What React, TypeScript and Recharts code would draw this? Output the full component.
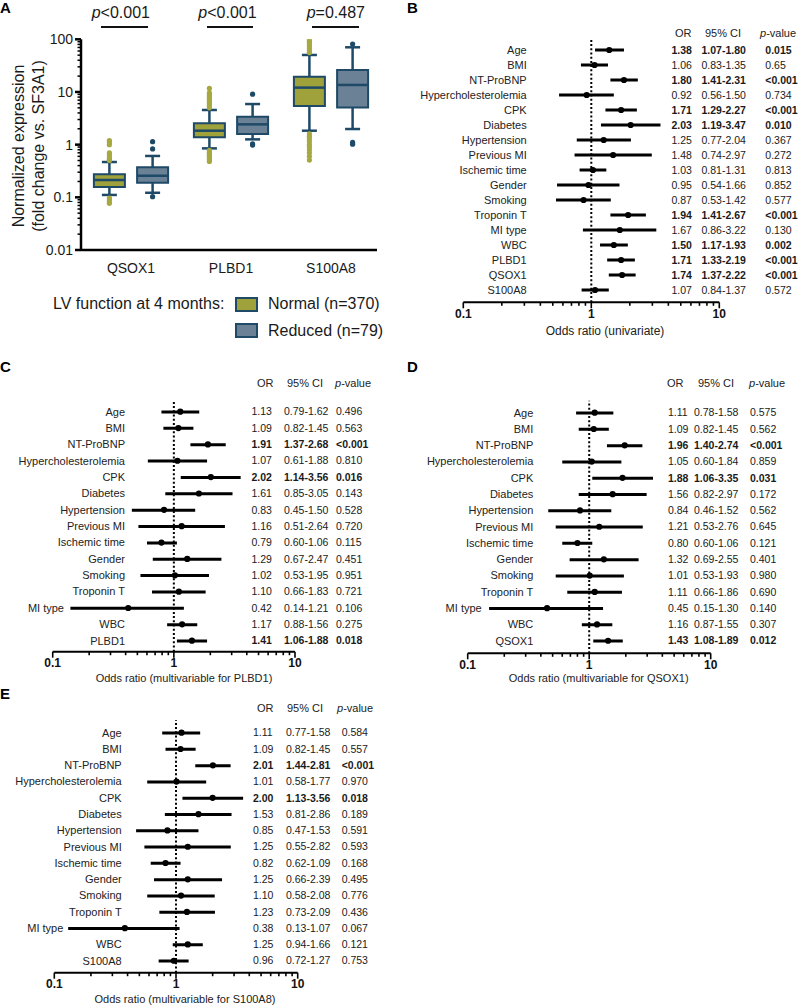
import React from "react";
import {
  Bar,
  ComposedChart,
  Line,
  ReferenceArea,
  ReferenceLine,
  Scatter,
  XAxis,
  YAxis,
} from "recharts";

const FONT = '"Liberation Sans", Arial, Helvetica, sans-serif';
const STROKE = "#1e4a68";
const NORMAL_FILL = "#9fa13a";
const NORMAL_DOT = "#a7a940";
const REDUCED_FILL = "#6b8195";

// ---- panel A: expression box plots ----
const genes = ["QSOX1", "PLBD1", "S100A8"];
const groupNames = ["Normal (n=370)", "Reduced (n=79)"];
const pLabels = ["<0.001", "<0.001", "=0.487"];

const normalLow = [0.111, 0.85, 1.84];
const normalQ1 = [0.157, 1.38, 5.4];
const normalMedian = [0.213, 1.84, 12.1];
const normalQ3 = [0.273, 2.54, 19.5];
const normalHigh = [0.468, 4.55, 50.4];
const normalOutliers = [
  [1.2, 1.1, 1.0, 0.7, 0.64, 0.58, 0.53, 0.5, 0.097, 0.09, 0.083, 0.077],
  [11.7, 9.6, 9.0, 8.4, 7.8, 7.2, 6.6, 6.0, 5.5, 5.0, 0.78, 0.72, 0.68, 0.64, 0.6, 0.56, 0.52, 0.48],
  [100, 92, 85, 78, 72, 66, 60, 56, 1.6, 1.45, 1.3, 1.15, 1.0, 0.9, 0.8, 0.7, 0.6, 0.51],
];

const reducedLow = [0.122, 1.26, 1.98];
const reducedQ1 = [0.19, 1.59, 5.1];
const reducedMedian = [0.257, 2.43, 13.6];
const reducedQ3 = [0.372, 3.4, 26.1];
const reducedHigh = [0.61, 5.9, 70.5];
const reducedOutliers = [
  [1.14, 0.83, 0.103],
  [9.1, 1.03, 0.98],
  [81.5, 1.1, 1.02],
];

const exprTicks = [-2, -1, 0, 1]
  .flatMap((e) => [1, 2, 3, 4, 5, 6, 7, 8, 9].map((m) => m * 10 ** e))
  .concat(100);

// ---- panels B-E: forest plots ----
const namesB = ["Age", "BMI", "NT-ProBNP", "Hypercholesterolemia", "CPK", "Diabetes", "Hypertension", "Previous MI", "Ischemic time", "Gender", "Smoking", "Troponin T", "MI type", "WBC", "PLBD1", "QSOX1", "S100A8"];
const orB = [1.38, 1.06, 1.8, 0.92, 1.71, 2.03, 1.25, 1.48, 1.03, 0.95, 0.87, 1.94, 1.67, 1.5, 1.71, 1.74, 1.07];
const loB = [1.07, 0.83, 1.41, 0.56, 1.29, 1.19, 0.77, 0.74, 0.81, 0.54, 0.53, 1.41, 0.86, 1.17, 1.33, 1.37, 0.84];
const hiB = [1.8, 1.35, 2.31, 1.5, 2.27, 3.47, 2.04, 2.97, 1.31, 1.66, 1.42, 2.67, 3.22, 1.93, 2.19, 2.22, 1.37];
const pB = ["0.015", "0.65", "<0.001", "0.734", "<0.001", "0.010", "0.367", "0.272", "0.813", "0.852", "0.577", "<0.001", "0.130", "0.002", "<0.001", "<0.001", "0.572"];

const namesMulti = ["Age", "BMI", "NT-ProBNP", "Hypercholesterolemia", "CPK", "Diabetes", "Hypertension", "Previous MI", "Ischemic time", "Gender", "Smoking", "Troponin T", "MI type", "WBC"];

const orC = [1.13, 1.09, 1.91, 1.07, 2.02, 1.61, 0.83, 1.16, 0.79, 1.29, 1.02, 1.1, 0.42, 1.17, 1.41];
const loC = [0.79, 0.82, 1.37, 0.61, 1.14, 0.85, 0.45, 0.51, 0.6, 0.67, 0.53, 0.66, 0.14, 0.88, 1.06];
const hiC = [1.62, 1.45, 2.68, 1.88, 3.56, 3.05, 1.5, 2.64, 1.06, 2.47, 1.95, 1.83, 1.21, 1.56, 1.88];
const pC = ["0.496", "0.563", "<0.001", "0.810", "0.016", "0.143", "0.528", "0.720", "0.115", "0.451", "0.951", "0.721", "0.106", "0.275", "0.018"];

const orD = [1.11, 1.09, 1.96, 1.05, 1.88, 1.56, 0.84, 1.21, 0.8, 1.32, 1.01, 1.11, 0.45, 1.16, 1.43];
const loD = [0.78, 0.82, 1.4, 0.6, 1.06, 0.82, 0.46, 0.53, 0.6, 0.69, 0.53, 0.66, 0.15, 0.87, 1.08];
const hiD = [1.58, 1.45, 2.74, 1.84, 3.35, 2.97, 1.52, 2.76, 1.06, 2.55, 1.93, 1.86, 1.3, 1.55, 1.89];
const pD = ["0.575", "0.562", "<0.001", "0.859", "0.031", "0.172", "0.562", "0.645", "0.121", "0.401", "0.980", "0.690", "0.140", "0.307", "0.012"];

const orE = [1.11, 1.09, 2.01, 1.01, 2.0, 1.53, 0.85, 1.25, 0.82, 1.25, 1.1, 1.23, 0.38, 1.25, 0.96];
const loE = [0.77, 0.82, 1.44, 0.58, 1.13, 0.81, 0.47, 0.55, 0.62, 0.66, 0.58, 0.73, 0.13, 0.94, 0.72];
const hiE = [1.58, 1.45, 2.81, 1.77, 3.56, 2.86, 1.53, 2.82, 1.09, 2.39, 2.08, 2.09, 1.07, 1.66, 1.27];
const pE = ["0.584", "0.557", "<0.001", "0.970", "0.018", "0.189", "0.591", "0.593", "0.168", "0.495", "0.776", "0.436", "0.067", "0.121", "0.753"];

const oddsTicks = [-1, 0]
  .flatMap((e) => [1, 2, 3, 4, 5, 6, 7, 8, 9].map((m) => m * 10 ** e))
  .concat(10);

type Row = { name: string; or: number; ci: [number, number]; p: string };

const buildRows = (names: string[], or: number[], lo: number[], hi: number[], p: string[]): Row[] =>
  names.map((name, i) => ({ name, or: or[i], ci: [lo[i], hi[i]], p: p[i] }));

const rowsB = buildRows(namesB, orB, loB, hiB, pB);
const rowsC = buildRows([...namesMulti, "PLBD1"], orC, loC, hiC, pC);
const rowsD = buildRows([...namesMulti, "QSOX1"], orD, loD, hiD, pD);
const rowsE = buildRows([...namesMulti, "S100A8"], orE, loE, hiE, pE);

const isDecade = (v: number) => Math.abs(Math.log10(v) - Math.round(Math.log10(v))) < 1e-6;
const isSig = (p: string) => p.startsWith("<") || parseFloat(p) < 0.05;
const fmt = (v: number) => String(Number(v.toPrecision(3)));

const BOX_HALF = 0.155;
const CAP_HALF = 0.075;

const boxGroups = [
  { name: groupNames[0], fill: NORMAL_FILL, dot: NORMAL_DOT, offset: -0.216, low: normalLow, q1: normalQ1, med: normalMedian, q3: normalQ3, high: normalHigh, out: normalOutliers },
  { name: groupNames[1], fill: REDUCED_FILL, dot: STROKE, offset: 0.216, low: reducedLow, q1: reducedQ1, med: reducedMedian, q3: reducedQ3, high: reducedHigh, out: reducedOutliers },
];

function ExprTick(props: any) {
  const { x, y, payload } = props;
  const major = isDecade(payload.value);
  return (
    <g>
      <line x1={x} x2={x - (major ? 6 : 3.5)} y1={y} y2={y} stroke="#000" strokeWidth={major ? 2.5 : 1.5} />
      {major && (
        <text x={x - 8} y={y} dy="0.35em" textAnchor="end" fontSize={14} fill="#1a1a1a">
          {fmt(payload.value)}
        </text>
      )}
    </g>
  );
}

function ExpressionPanel() {
  const pCenters = [120.8, 227.5, 335.8];
  const sigBars = [[101, 148], [207, 253], [312, 359]];
  return (
    <div style={{ position: "absolute", left: 0, top: 0, width: 400, height: 345 }}>
      {pLabels.map((p, i) => (
        <div key={i} style={{ position: "absolute", left: pCenters[i] - 45, width: 90, top: 5, textAlign: "center", fontSize: 16, lineHeight: "16px" }}>
          <i>p</i>
          {p}
        </div>
      ))}
      {sigBars.map(([a, b], i) => (
        <div key={i} style={{ position: "absolute", left: a, width: b - a, top: 25.5, height: 2.5, background: "#111" }} />
      ))}
      <div style={{ position: "absolute", left: 0, top: 0 }}>
        <ComposedChart width={400} height={280} margin={{ top: 39.3, right: 23, bottom: 0, left: 0 }}>
          <XAxis
            type="number"
            dataKey="x"
            domain={[0, 2.96]}
            ticks={[0.5, 1.5, 2.5]}
            tickFormatter={(v) => genes[Math.round(v - 0.5)]}
            allowDataOverflow
            height={30}
            axisLine={{ stroke: "#000", strokeWidth: 2.5 }}
            tickLine={false}
            tickSize={0}
            tickMargin={13}
            tick={{ fontSize: 14, fill: "#1a1a1a" }}
          />
          <YAxis
            type="number"
            dataKey="y"
            scale="log"
            domain={[0.01, 100]}
            ticks={exprTicks}
            interval={0}
            allowDataOverflow
            width={81}
            axisLine={{ stroke: "#000", strokeWidth: 2.5 }}
            tickLine={false}
            tickSize={0}
            tickMargin={0}
            tick={ExprTick}
          />
          {boxGroups.flatMap((g) =>
            genes.map((gene, i) => {
              const cx = i + 0.5 + g.offset;
              return (
                <ReferenceArea
                  key={`box-${g.name}-${gene}`}
                  x1={cx - BOX_HALF}
                  x2={cx + BOX_HALF}
                  y1={g.q1[i]}
                  y2={g.q3[i]}
                  fill={g.fill}
                  fillOpacity={1}
                  stroke={STROKE}
                  strokeWidth={2}
                />
              );
            })
          )}
          {boxGroups.flatMap((g) =>
            genes.flatMap((gene, i) => {
              const cx = i + 0.5 + g.offset;
              const segs = [
                [{ x: cx, y: g.low[i] }, { x: cx, y: g.q1[i] }],
                [{ x: cx, y: g.q3[i] }, { x: cx, y: g.high[i] }],
                [{ x: cx - CAP_HALF, y: g.low[i] }, { x: cx + CAP_HALF, y: g.low[i] }],
                [{ x: cx - CAP_HALF, y: g.high[i] }, { x: cx + CAP_HALF, y: g.high[i] }],
                [{ x: cx - BOX_HALF, y: g.med[i] }, { x: cx + BOX_HALF, y: g.med[i] }],
              ];
              return segs.map((s, k) => (
                <ReferenceLine key={`seg-${g.name}-${gene}-${k}`} segment={s as any} stroke={STROKE} strokeWidth={2.5} />
              ));
            })
          )}
          {boxGroups.map((g) => (
            <Scatter
              key={`out-${g.name}`}
              data={g.out.flatMap((vals, i) => vals.map((v) => ({ x: i + 0.5 + g.offset, y: v })))}
              isAnimationActive={false}
              shape={(p: any) => <circle cx={p.cx} cy={p.cy} r={2.6} fill={g.dot} />}
            />
          ))}
        </ComposedChart>
      </div>
      <svg width={60} height={280} style={{ position: "absolute", left: 0, top: 0 }}>
        <text transform="translate(18,146) rotate(-90)" textAnchor="middle" dy="0.35em" fontSize={16} fill="#1a1a1a">
          Normalized expression
        </text>
        <text transform="translate(38,146) rotate(-90)" textAnchor="middle" dy="0.35em" fontSize={16} fill="#1a1a1a">
          (fold change vs. SF3A1)
        </text>
      </svg>
      <div style={{ position: "absolute", left: 53, top: 296, fontSize: 16, lineHeight: "16px" }}>LV function at 4 months:</div>
      {boxGroups.map((g, i) => (
        <React.Fragment key={g.name}>
          <div
            style={{
              position: "absolute",
              left: 235,
              top: 296.7 + i * 26.7,
              width: 23,
              height: 15,
              background: g.fill,
              border: `2px solid ${STROKE}`,
              boxSizing: "border-box",
            }}
          />
          <div style={{ position: "absolute", left: 268, top: 296 + i * 26.7, fontSize: 16, lineHeight: "16px" }}>{g.name}</div>
        </React.Fragment>
      ))}
    </div>
  );
}

type ForestCfg = {
  left: number; top: number; width: number; height: number;
  plotLeft: number; plotRight: number; plotTop: number; axisY: number;
  padTop: number; padBottom: number;
  labelRight: number; miTypeRight: number;
  colOR: number; colCI: number; colP: number;
  headY: number; headOR: number; headCI: number; headP: number;
  titleX: number; titleY: number; titleSize: number; title: string;
};

function OddsTick(props: any) {
  const { x, y, payload } = props;
  const major = isDecade(payload.value);
  return (
    <g>
      <line x1={x} x2={x} y1={y} y2={y + (major ? 6 : 3.5)} stroke="#000" strokeWidth={1.6} />
      {major && (
        <text x={x} y={y + 11.5} dy="0.35em" textAnchor="middle" fontSize={12} fontWeight="bold" fill="#111">
          {fmt(payload.value)}
        </text>
      )}
    </g>
  );
}

function ForestPanel({ cfg, rows }: { cfg: ForestCfg; rows: Row[] }) {
  const rowTick = (props: any) => {
    const { y, index } = props;
    const row = rows[index];
    if (!row) return <g />;
    const w = isSig(row.p) ? "bold" : "normal";
    const right = row.name === "MI type" ? cfg.miTypeRight : cfg.labelRight;
    return (
      <g>
        <text x={right} y={y} dy="0.35em" textAnchor="end" fontSize={11} fill="#222">{row.name}</text>
        <text x={cfg.colOR} y={y} dy="0.35em" fontSize={10.5} fontWeight={w} fill="#1a1a1a">{row.or.toFixed(2)}</text>
        <text x={cfg.colCI} y={y} dy="0.35em" fontSize={10.5} fontWeight={w} fill="#1a1a1a">
          {`${row.ci[0].toFixed(2)}-${row.ci[1].toFixed(2)}`}
        </text>
        <text x={cfg.colP} y={y} dy="0.35em" fontSize={10.5} fontWeight={w} fill="#1a1a1a">{row.p}</text>
      </g>
    );
  };
  const headStyle: React.CSSProperties = { position: "absolute", top: cfg.headY - 7, fontSize: 11, lineHeight: "14px", color: "#222" };
  return (
    <div style={{ position: "absolute", left: cfg.left, top: cfg.top, width: cfg.width, height: cfg.height }}>
      <div style={{ ...headStyle, left: cfg.headOR }}>OR</div>
      <div style={{ ...headStyle, left: cfg.headCI }}>95% CI</div>
      <div style={{ ...headStyle, left: cfg.headP }}>
        <i>p</i>-value
      </div>
      <div style={{ position: "absolute", left: 0, top: 0 }}>
        <ComposedChart
          layout="vertical"
          width={cfg.width}
          height={cfg.height}
          data={rows}
          margin={{ top: cfg.plotTop, left: cfg.plotLeft - 1, right: cfg.width - cfg.plotRight, bottom: cfg.height - cfg.axisY - 20 }}
        >
          <XAxis
            type="number"
            scale="log"
            domain={[0.1, 10]}
            ticks={oddsTicks}
            interval={0}
            allowDataOverflow
            height={20}
            axisLine={{ stroke: "#000", strokeWidth: 2 }}
            tickLine={false}
            tickSize={0}
            tickMargin={0}
            tick={OddsTick}
          />
          <YAxis
            type="category"
            dataKey="name"
            width={1}
            interval={0}
            axisLine={false}
            tickLine={false}
            tickSize={0}
            tickMargin={0}
            padding={{ top: cfg.padTop, bottom: cfg.padBottom }}
            tick={rowTick}
          />
          <ReferenceLine x={1} stroke="#000" strokeWidth={2} strokeDasharray="2 2.2" />
          <Bar dataKey="ci" barSize={3} fill="#000" isAnimationActive={false} />
          <Line dataKey="or" stroke="none" dot={{ r: 3.1, fill: "#000", stroke: "none" }} isAnimationActive={false} />
        </ComposedChart>
      </div>
      <div
        style={{
          position: "absolute",
          left: cfg.titleX - 150,
          width: 300,
          top: cfg.titleY - 6,
          textAlign: "center",
          fontSize: cfg.titleSize,
          lineHeight: "12px",
          color: "#222",
        }}
      >
        {cfg.title}
      </div>
    </div>
  );
}

const cfgB: ForestCfg = {
  left: 400, top: 0, width: 400, height: 345,
  plotLeft: 63.3, plotRight: 319.3, plotTop: 39, axisY: 302.3, padTop: 3.5, padBottom: 4.8,
  labelRight: 126.7, miTypeRight: 126.7, colOR: 271.5, colCI: 301.5, colP: 365.3,
  headY: 33, headOR: 275, headCI: 305, headP: 360,
  titleX: 205, titleY: 331, titleSize: 12, title: "Odds ratio (univariate)",
};
const cfgC: ForestCfg = {
  left: 0, top: 330, width: 400, height: 350,
  plotLeft: 52.7, plotRight: 295, plotTop: 71.7, axisY: 321.7, padTop: 1.8, padBottom: 2.8,
  labelRight: 125, miTypeRight: 64, colOR: 251.5, colCI: 284, colP: 336,
  headY: 53.3, headOR: 257, headCI: 287, headP: 335,
  titleX: 184, titleY: 348.3, titleSize: 11, title: "Odds ratio (multivariable for PLBD1)",
};
const cfgD: ForestCfg = {
  left: 400, top: 330, width: 400, height: 350,
  plotLeft: 67.7, plotRight: 310.7, plotTop: 70.7, axisY: 323.3, padTop: 3.85, padBottom: 4.4,
  labelRight: 133.3, miTypeRight: 81.7, colOR: 268, colCI: 294, colP: 350,
  headY: 53.3, headOR: 267, headCI: 298, headP: 349,
  titleX: 198.7, titleY: 348, titleSize: 11, title: "Odds ratio (multivariable for QSOX1)",
};
const cfgE: ForestCfg = {
  left: 0, top: 670, width: 400, height: 336,
  plotLeft: 54.3, plotRight: 297.7, plotTop: 50, axisY: 302.7, padTop: 4.55, padBottom: 3.8,
  labelRight: 121.7, miTypeRight: 63.3, colOR: 253, colCI: 286, colP: 341.7,
  headY: 38.3, headOR: 257, headCI: 287, headP: 337,
  titleX: 185, titleY: 328.5, titleSize: 11, title: "Odds ratio (multivariable for S100A8)",
};

const letters = [
  { t: "A", x: 0, y: 8 },
  { t: "B", x: 407, y: 8 },
  { t: "C", x: 0, y: 367 },
  { t: "D", x: 407, y: 367 },
  { t: "E", x: 0, y: 694 },
];

export default function App() {
  return (
    <div style={{ position: "absolute", left: 0, top: 0, width: 800, height: 1006, background: "#fff", fontFamily: FONT, color: "#1a1a1a", overflow: "hidden" }}>
      <ExpressionPanel />
      <ForestPanel cfg={cfgB} rows={rowsB} />
      <ForestPanel cfg={cfgC} rows={rowsC} />
      <ForestPanel cfg={cfgD} rows={rowsD} />
      <ForestPanel cfg={cfgE} rows={rowsE} />
      {letters.map((l) => (
        <div key={l.t} style={{ position: "absolute", left: l.x, top: l.y - 8, fontSize: 15, lineHeight: "16px", fontWeight: "bold", color: "#000" }}>
          {l.t}
        </div>
      ))}
    </div>
  );
}
